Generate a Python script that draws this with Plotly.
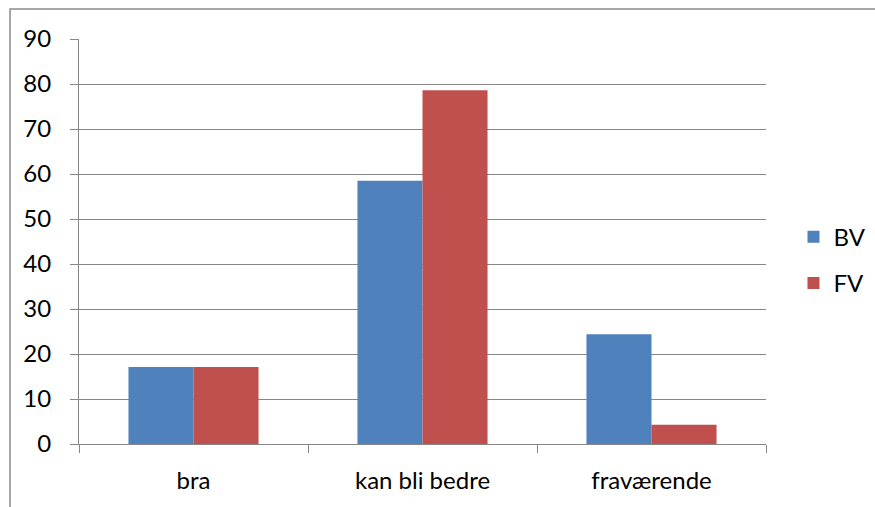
import plotly.graph_objects as go

# Survey shares (%) per category for the two groups
categories = ["bra", "kan bli bedre", "fraværende"]
bv_values = [17.1, 58.5, 24.4]
fv_values = [17.1, 78.6, 4.3]
y_ticks = [0, 10, 20, 30, 40, 50, 60, 70, 80, 90]

FONT = "Lato"
GRID = "#878787"

fig = go.Figure()
fig.add_trace(go.Bar(name="BV", x=categories, y=bv_values,
                     marker=dict(color="#4F81BD", line=dict(width=0)),
                     legendgroup="bv"))
fig.add_trace(go.Bar(name="FV", x=categories, y=fv_values,
                     marker=dict(color="#C0504D", line=dict(width=0)),
                     legendgroup="fv"))

fig.update_layout(
    width=875, height=507,
    margin=dict(l=79, r=109, t=39, b=63, autoexpand=False),
    paper_bgcolor="white", plot_bgcolor="white",
    font=dict(family=FONT, size=24, color="#000000"),
    barmode="group", bargap=0.432, bargroupgap=0,
    showlegend=True,
    legend=dict(x=1.04, xanchor="left", y=0.454, yanchor="middle",
                font=dict(family=FONT, size=24),
                tracegroupgap=12, bgcolor="rgba(0,0,0,0)"),
    shapes=[dict(type="rect", xref="paper", yref="paper",
                 x0=-0.1004, x1=1.3, y0=-0.3, y1=1.0741,
                 line=dict(color="#8c8c8c", width=1.5),
                 fillcolor="rgba(0,0,0,0)", layer="below")],
)

fig.update_yaxes(
    range=[0, 90], tickvals=y_ticks,
    showgrid=True, gridcolor=GRID, gridwidth=1,
    showline=True, linecolor=GRID, linewidth=1,
    ticks="outside", ticklen=8, tickcolor=GRID, tickwidth=1,
    zeroline=False, ticklabelstandoff=14,
    tickfont=dict(family=FONT, size=24),
)
fig.update_xaxes(
    showgrid=False, showline=True, linecolor=GRID, linewidth=1,
    ticks="outside", tickson="boundaries", ticklen=8,
    tickcolor=GRID, tickwidth=1,
    tickfont=dict(family=FONT, size=24), ticklabelstandoff=15,
)

fig.write_html("out.html")
